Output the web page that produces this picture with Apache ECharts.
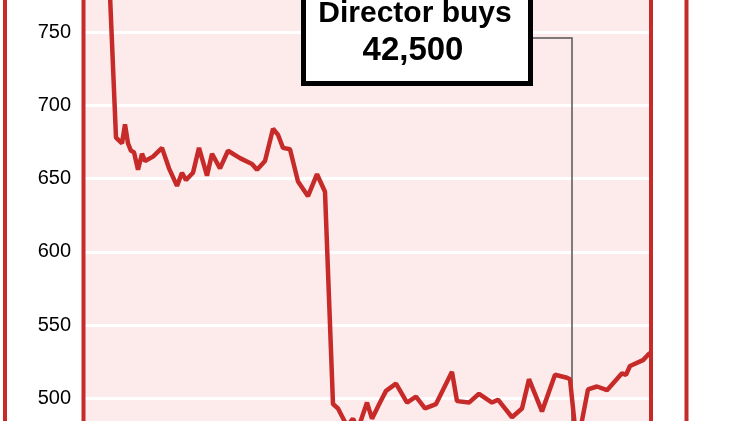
<!DOCTYPE html>
<html>
<head>
<meta charset="utf-8">
<style>html,body{margin:0;padding:0;background:#fff;}#c{width:750px;height:421px;}</style>
<script src="https://cdn.jsdelivr.net/npm/echarts@6/dist/echarts.min.js"></script>
</head>
<body>
<div id="c"></div>
<script>
// Trading-day index (x) and share price in pence (y)
const days = [5.9, 7.75, 9.25, 10, 10.75, 11.5, 12.25, 13.25, 14.25, 15, 17, 19.25, 21, 23, 24.25, 25.25, 27, 28.5, 30.5, 31.75, 33.75, 35.75, 38.75, 41.75, 43, 45, 47, 48.25, 49.5, 51.25, 53.25, 55.75, 58, 60, 62, 63.25, 65.5, 67, 68.25, 70.5, 71.75, 73.75, 75.25, 77.75, 80.5, 82.75, 85, 87.75, 91.75, 93, 96, 98.5, 101.75, 103.25, 106.75, 109.25, 111, 114.25, 117.5, 120.5, 121.25, 123, 125.75, 128, 130.5, 134.25, 135.25, 136.25, 139.5, 141.25];
const prices = [798, 678, 674, 687, 674, 669, 668, 656, 667, 662, 665, 671, 657, 645, 654, 649, 654, 671, 652, 667, 657, 669, 664, 660, 656, 662, 684, 680, 671, 670, 648, 638, 653, 641, 496, 493, 481, 486, 479, 497, 486, 497, 505, 510, 497, 501, 493, 496, 518, 498, 497, 503, 497, 499, 487, 493, 513, 491, 516, 514, 513, 467, 506, 508, 505.5, 517, 516, 522, 526, 531];
const yTicks = [450, 500, 550, 600, 650, 700, 750, 800];
const noteLines = ['Director buys', '42,500'];

const chart = echarts.init(document.getElementById('c'), null, {renderer: 'canvas'});
const red = '#c62b2a';
const vline = (x) => ({type: 'line', shape: {x1: x, y1: 0, x2: x, y2: 421}, style: {stroke: red, lineWidth: 4}, z: 10});
chart.setOption({
  animation: false,
  backgroundColor: '#ffffff',
  grid: {left: 85, width: 566, top: -41, height: 512.4, show: true, backgroundColor: '#fdebeb', borderWidth: 0, containLabel: false, outerBoundsMode: 'none'},
  xAxis: {type: 'value', min: 0, max: 141.5, show: false},
  yAxis: {
    type: 'value', min: yTicks[0], max: yTicks[yTicks.length - 1], interval: 50,
    axisLine: {show: false}, axisTick: {show: false},
    axisLabel: {margin: 14, color: '#000', fontSize: 20, fontFamily: '"Liberation Sans", Arial, sans-serif'},
    splitLine: {show: true, lineStyle: {color: '#ffffff', width: 3}}
  },
  series: [{
    type: 'line', data: days.map((d, i) => [d, prices[i]]), symbol: 'none', z: 3,
    lineStyle: {color: red, width: 4.5}
  }],
  graphic: [
    vline(5), vline(83.5), vline(651), vline(686.5),
    {type: 'polyline', shape: {points: [[533, 38], [572, 38], [572, 430]]}, style: {stroke: '#555', lineWidth: 1.5, fill: null}, z: 1},
    {type: 'rect', shape: {x: 303.5, y: -10, width: 227, height: 93.5}, style: {fill: '#fff', stroke: '#000', lineWidth: 5}, z: 11},
    {type: 'text', x: 415, y: 14, style: {text: noteLines[0], font: 'bold 30px "Liberation Sans", Arial, sans-serif', fill: '#000', textAlign: 'center', textVerticalAlign: 'middle'}, z: 12},
    {type: 'text', x: 413, y: 51, style: {text: noteLines[1], font: 'bold 33px "Liberation Sans", Arial, sans-serif', fill: '#000', textAlign: 'center', textVerticalAlign: 'middle'}, z: 12}
  ]
});
</script>
</body>
</html>
